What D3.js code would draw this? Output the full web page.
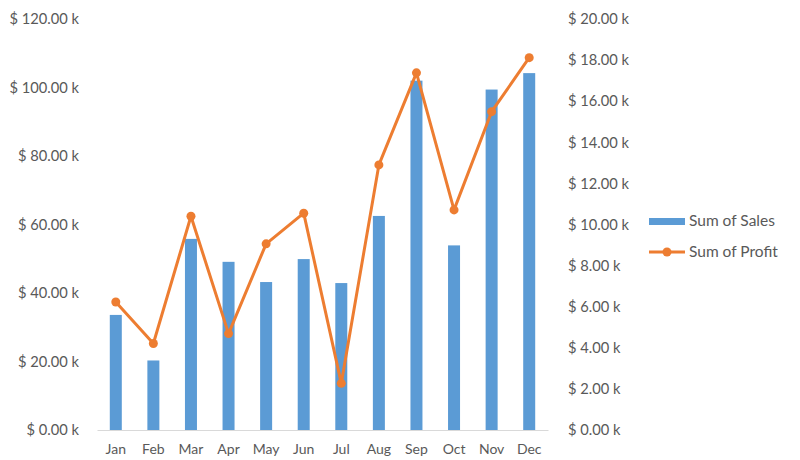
<!DOCTYPE html>
<html>
<head>
<meta charset="utf-8">
<script src="https://cdn.jsdelivr.net/npm/d3@7"></script>
<style>
  body { margin: 0; background: #fff; }
  text { font-family: Lato, "Open Sans", sans-serif; fill: #595959; }
</style>
</head>
<body>
<div id="chart"></div>
<script>
// data (thousands of $)
const months = ["Jan", "Feb", "Mar", "Apr", "May", "Jun", "Jul", "Aug", "Sep", "Oct", "Nov", "Dec"];
const sales = [33.6, 20.3, 55.8, 49.1, 43.2, 49.9, 42.9, 62.5, 102.0, 53.9, 99.4, 104.2];
const profit = [6.23, 4.21, 10.4, 4.69, 9.06, 10.55, 2.27, 12.9, 17.38, 10.71, 15.49, 18.12];
const salesTicks = [0, 20, 40, 60, 80, 100, 120];
const profitTicks = [0, 2, 4, 6, 8, 10, 12, 14, 16, 18, 20];

const W = 800, H = 460;
let margin = { top: 19, right: 252, bottom: 30, left: 97 };
let width = W - margin.left - margin.right;
let height = H - margin.top - margin.bottom;

let svg = d3.select("#chart").append("svg")
    .attr("width", W).attr("height", H)
    .append("g")
    .attr("transform", "translate(" + margin.left + "," + margin.top + ")");

let x = d3.scaleBand().domain(months).range([0, width]).padding(0);
let ySales = d3.scaleLinear().domain([0, 120]).range([height, 0]);
let yProfit = d3.scaleLinear().domain([0, 20]).range([height, 0]);

const fmt = v => "$ " + v.toFixed(2) + " k";

// left axis
let left = svg.append("g")
    .attr("transform", "translate(-15,0)")
    .call(d3.axisLeft(ySales).tickValues(salesTicks).tickSize(0).tickFormat(fmt));
left.select(".domain").remove();
left.selectAll("text").style("font-size", "14.7px").style("fill", "#595959");

// right axis
let right = svg.append("g")
    .attr("transform", "translate(" + (width + 17) + ",0)")
    .call(d3.axisRight(yProfit).tickValues(profitTicks).tickSize(0).tickFormat(fmt));
right.select(".domain").remove();
right.selectAll("text").style("font-size", "14.7px").style("fill", "#595959");

// x axis
let bottom = svg.append("g")
    .attr("transform", "translate(0," + height + ")")
    .call(d3.axisBottom(x).tickSize(0).tickPadding(14));
bottom.select(".domain").attr("stroke", "#d9d9d9");
bottom.selectAll("text").style("font-size", "14px").style("fill", "#595959");

// bars
const barW = 12;
svg.selectAll(".bar")
    .data(months)
    .enter()
    .append("rect")
    .attr("class", "bar")
    .attr("x", (d) => x(d) + x.bandwidth() / 2 - barW / 2)
    .attr("y", (d, i) => ySales(sales[i]))
    .attr("width", barW)
    .attr("height", (d, i) => height - ySales(sales[i]))
    .style("fill", "#5b9bd5");

// profit line
let line = d3.line()
    .x((d, i) => x(months[i]) + x.bandwidth() / 2)
    .y(d => yProfit(d));

svg.append("path")
    .datum(profit)
    .attr("d", line)
    .style("fill", "none")
    .style("stroke", "#ed7d31")
    .style("stroke-width", 3)
    .style("stroke-linejoin", "round");

svg.selectAll(".dot")
    .data(profit)
    .enter()
    .append("circle")
    .attr("cx", (d, i) => x(months[i]) + x.bandwidth() / 2)
    .attr("cy", d => yProfit(d))
    .attr("r", 4.5)
    .style("fill", "#ed7d31");

// legend
let legend = d3.select("svg").append("g");
legend.append("rect")
    .attr("x", 649).attr("y", 218).attr("width", 36).attr("height", 7)
    .style("fill", "#5b9bd5");
legend.append("text")
    .attr("x", 689).attr("y", 221).attr("dy", "0.35em")
    .style("font-size", "15.5px")
    .text("Sum of Sales");
legend.append("line")
    .attr("x1", 649).attr("x2", 685).attr("y1", 252).attr("y2", 252)
    .style("stroke", "#ed7d31").style("stroke-width", 3);
legend.append("circle")
    .attr("cx", 667).attr("cy", 252).attr("r", 4.5)
    .style("fill", "#ed7d31");
legend.append("text")
    .attr("x", 689).attr("y", 252).attr("dy", "0.35em")
    .style("font-size", "15.5px")
    .text("Sum of Profit");
</script>
</body>
</html>
